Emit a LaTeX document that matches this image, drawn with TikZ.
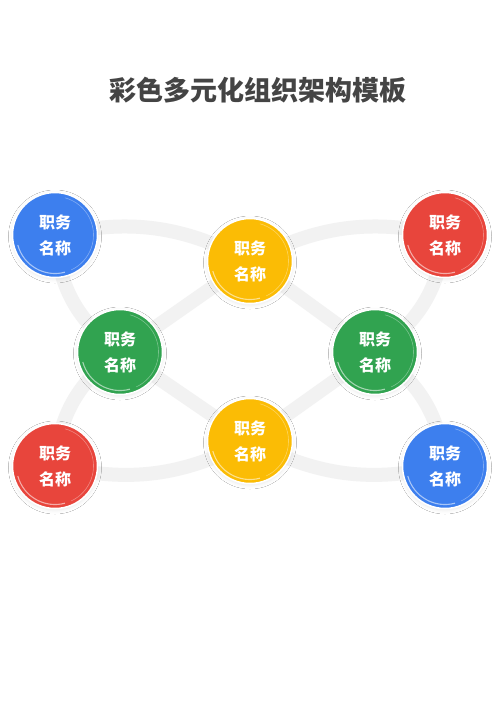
\documentclass[tikz,border=0pt]{standalone}
\usepackage{fontspec}
\newfontfamily\cjk{Noto Sans CJK SC}
\usetikzlibrary{shadows.blur}
\definecolor{gblue}{HTML}{3D7FEE}
\definecolor{gred}{HTML}{E8453C}
\definecolor{gyellow}{HTML}{FBBC05}
\definecolor{ggreen}{HTML}{31A350}
\definecolor{bandgray}{HTML}{F2F2F2}
\definecolor{titlegray}{HTML}{444444}
\tikzset{
  band/.style={line width=14pt, draw=bandgray},
  role/.style={circle, minimum size=85pt, inner sep=0pt, draw=white, line width=1.5pt,
    text=white, align=center, font=\cjk\bfseries\fontsize{16}{26}\selectfont,
    blur shadow={shadow xshift=0pt, shadow yshift=-1.5pt, shadow blur radius=4pt,
      shadow blur steps=10, shadow opacity=9}},
  gloss/.style={draw=white, line width=1.1pt, opacity=0.55},
  ring/.style={draw=white, line width=0.6pt, opacity=0.35},
}
\begin{document}
\begin{tikzpicture}[x=1pt,y=1pt]
\useasboundingbox (0,0) rectangle (500,-707);
\fill[white] (0,0) rectangle (500,-707);

\node[font=\cjk\bfseries\fontsize{27}{27}\selectfont, text=titlegray] (title) at (257.5,-90) {彩色多元化组织架构模板};

% node positions
\coordinate (pb1) at (55,-235);
\coordinate (py1) at (250,-261);
\coordinate (pr1) at (445,-235);
\coordinate (pg1) at (120,-352);
\coordinate (pg2) at (375,-352);
\coordinate (pr2) at (55,-466);
\coordinate (py2) at (250,-441);
\coordinate (pb2) at (445,-466);

% bands
\draw[band] (pb1) to[bend left=20] (py1);
\draw[band] (py1) to[bend left=20] (pr1);
\draw[band] (pb1) to[bend right=25] (pg1);
\draw[band] (pg1) to[bend right=25] (pr2);
\draw[band] (pr1) to[bend left=25] (pg2);
\draw[band] (pg2) to[bend left=25] (pb2);
\draw[band] (pr2) to[bend right=20] (py2);
\draw[band] (py2) to[bend right=20] (pb2);
\draw[band] (pg1) -- (py1);
\draw[band] (py1) -- (pg2);
\draw[band] (pg2) -- (py2);
\draw[band] (py2) -- (pg1);

% role circles
\node[role, fill=gblue]   (b1) at (pb1) {职务\\名称};
\node[role, fill=gyellow] (y1) at (py1) {职务\\名称};
\node[role, fill=gred]    (r1) at (pr1) {职务\\名称};
\node[role, fill=ggreen]  (g1) at (pg1) {职务\\名称};
\node[role, fill=ggreen]  (g2) at (pg2) {职务\\名称};
\node[role, fill=gred]    (r2) at (pr2) {职务\\名称};
\node[role, fill=gyellow] (y2) at (py2) {职务\\名称};
\node[role, fill=gblue]   (b2) at (pb2) {职务\\名称};

% gloss highlights
\foreach \n in {b1,y1,r1,g1,g2,r2,y2,b2}{
  \draw[gloss] ([shift={(195:38.5pt)}]\n.center) arc[start angle=195, end angle=285, radius=38.5pt];
  \draw[ring] ([shift={(-65:38.5pt)}]\n.center) arc[start angle=-65, end angle=75, radius=38.5pt];
}
\end{tikzpicture}
\end{document}
